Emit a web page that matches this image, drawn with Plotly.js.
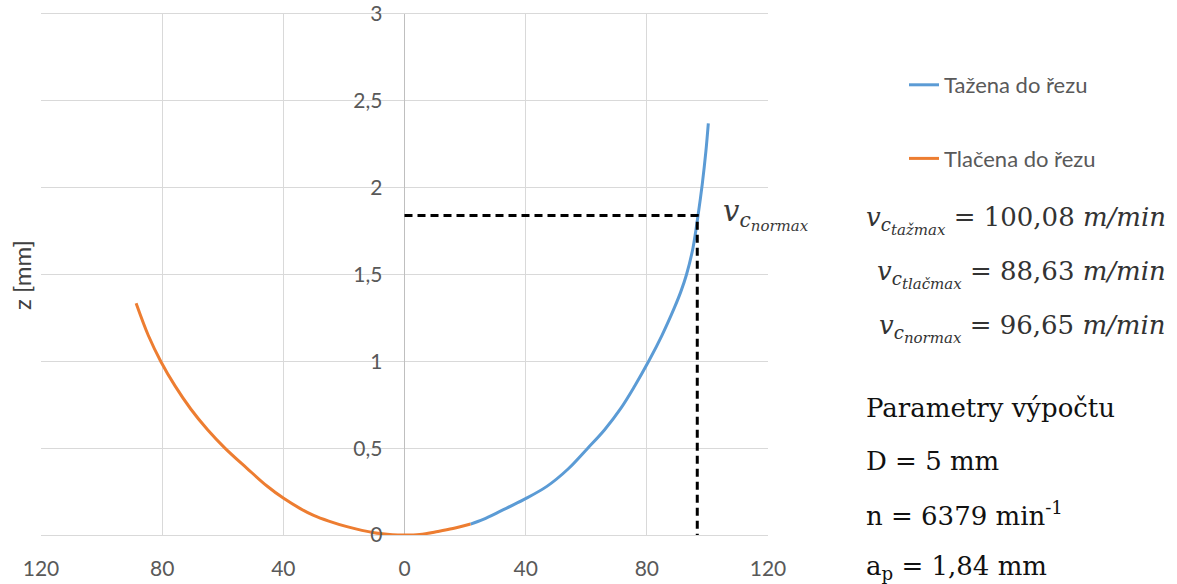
<!DOCTYPE html>
<html>
<head>
<meta charset="utf-8">
<script src="https://cdn.plot.ly/plotly-3.0.1.min.js"></script>
<style>html,body{margin:0;padding:0;background:#fff;}#chart{width:1177px;height:584px;}</style>
</head>
<body>
<div id="chart"></div>
<script>
// ---- data ----
const seriesNames = ["Tažena do řezu", "Tlačena do řezu"];
const tazX = [21.8, 26, 32, 39.5, 47, 54, 60.5, 66, 71.4, 76, 80.6, 85, 89, 91.2, 93.1, 95.2, 96.9, 98.3, 99.5, 100.3];
const tazY = [0.063, 0.09, 0.14, 0.205, 0.28, 0.38, 0.5, 0.605, 0.729, 0.858, 1.0, 1.15, 1.305, 1.4, 1.5, 1.65, 1.84, 2.02, 2.21, 2.37];
const tlaX = [-88.6, -84.6, -80.4, -75.7, -70.5, -65, -59.2, -52, -45.4, -39.9, -34.4, -30, -25, -19, -10, -4, 0, 5, 11, 16, 21.8];
const tlaY = [1.334, 1.15, 0.998, 0.857, 0.724, 0.606, 0.499, 0.384, 0.282, 0.211, 0.152, 0.113, 0.08, 0.048, 0.013, 0.002, 0, 0.003, 0.02, 0.037, 0.063];
const normGuideX = [0, 96.65, 96.65];
const normGuideY = [1.84, 1.84, 0];
const xTickVals = [-120, -80, -40, 0, 40, 80, 120];
const xTickText = ["120", "80", "40", "0", "40", "80", "120"];
const yTickVals = [0, 0.5, 1, 1.5, 2, 2.5, 3];
const yTickText = ["0", "0,5", "1", "1,5", "2", "2,5", "3"];
const yTitle = "z [mm]";
const sub2 = s => "<sub>c<sub><span style='font-size:15px'>" + s + "</span></sub></sub>";
const vLabel = "<i>v" + sub2("normax") + "</i>";
const resultLines = [
  "<i>v" + sub2("tažmax") + "</i> = 100,08 <i>m/min</i>",
  "<i>v" + sub2("tlačmax") + "</i> = 88,63 <i>m/min</i>",
  "<i>v" + sub2("normax") + "</i> = 96,65 <i>m/min</i>"
];
const paramLines = ["Parametry výpočtu", "D = 5 mm", "n = 6379 min<sup>-1</sup>", "a<sub>p</sub> = 1,84 mm"];

// ---- layout helpers (pixel -> paper) ----
const L = 41, R = 768, T = 14, B = 535;
const PX = p => (p - L) / (R - L);
const PY = p => (B - p) / (B - T);

const sans = "Lato, 'Open Sans', sans-serif";
const serif = "'DejaVu Serif', 'Liberation Serif', serif";
const grid = "#d9d9d9";

const traces = [
  {x: tazX, y: tazY, name: seriesNames[0], mode: "lines", type: "scatter",
   line: {color: "#5b9bd5", width: 3, shape: "spline", smoothing: 1}, legendgroup: "a"},
  {x: tlaX, y: tlaY, name: seriesNames[1], mode: "lines", type: "scatter",
   line: {color: "#ed7d31", width: 3, shape: "spline", smoothing: 1}, legendgroup: "b"},
  {x: normGuideX, y: normGuideY, mode: "lines", type: "scatter", showlegend: false,
   line: {color: "#000000", width: 3, dash: "8px,5px"}, hoverinfo: "skip"}
];

const annotations = [];
annotations.push({xref: "paper", yref: "paper", x: PX(21), y: PY(275), text: yTitle, textangle: -90,
  showarrow: false, font: {family: sans, size: 24, color: "#404040"}, xanchor: "center", yanchor: "middle"});
annotations.push({xref: "paper", yref: "paper", x: PX(719), y: PY(214), text: vLabel, showarrow: false,
  xanchor: "left", yanchor: "middle", bgcolor: "#ffffff", borderpad: 3,
  font: {family: serif, size: 29, color: "#3a3a3a"}});
const resY = [220, 274, 328];
resultLines.forEach((t, i) => annotations.push({xref: "paper", yref: "paper", x: PX(1168), y: PY(resY[i]),
  text: t, showarrow: false, xanchor: "right", yanchor: "middle",
  font: {family: serif, size: 26, color: "#333333"}}));
const parY = [408, 461, 514, 567];
paramLines.forEach((t, i) => annotations.push({xref: "paper", yref: "paper", x: PX(864), y: PY(parY[i]),
  text: t, showarrow: false, xanchor: "left", yanchor: "middle",
  font: {family: serif, size: 26, color: "#111111"}}));

const layout = {
  width: 1177, height: 584,
  margin: {l: L, r: 1177 - R, t: T, b: 584 - B, pad: 0},
  paper_bgcolor: "#ffffff", plot_bgcolor: "#ffffff",
  showlegend: true,
  legend: {x: PX(904), y: PY(64), xanchor: "left", yanchor: "top", tracegroupgap: 42,
    font: {family: sans, size: 22, color: "#595959"}, bgcolor: "rgba(0,0,0,0)"},
  xaxis: {range: [-120, 120], tickvals: xTickVals, ticktext: xTickText, showgrid: true,
    gridcolor: grid, gridwidth: 1, zeroline: true, zerolinecolor: "#bfbfbf", zerolinewidth: 1,
    showline: true, mirror: true, linecolor: grid, linewidth: 1, ticks: "", ticklabelstandoff: 15,
    tickfont: {family: sans, size: 21, color: "#595959"}, fixedrange: true},
  yaxis: {range: [0, 3], tickvals: yTickVals, ticktext: yTickText, anchor: "free", position: 0.5,
    side: "left", showgrid: true, gridcolor: grid, gridwidth: 1, zeroline: true,
    zerolinecolor: "#cccccc", zerolinewidth: 1, showline: false, ticks: "", ticklabelstandoff: 22,
    tickfont: {family: sans, size: 21, color: "#595959"}, fixedrange: true},
  yaxis2: {range: [0, 3], overlaying: "y", anchor: "x", side: "left", showline: true, mirror: true,
    linecolor: grid, linewidth: 1, showgrid: false, zeroline: false, showticklabels: false, ticks: "",
    fixedrange: true},
  annotations: annotations
};

Plotly.newPlot("chart", traces, layout, {displayModeBar: false, staticPlot: true});
</script>
</body>
</html>
